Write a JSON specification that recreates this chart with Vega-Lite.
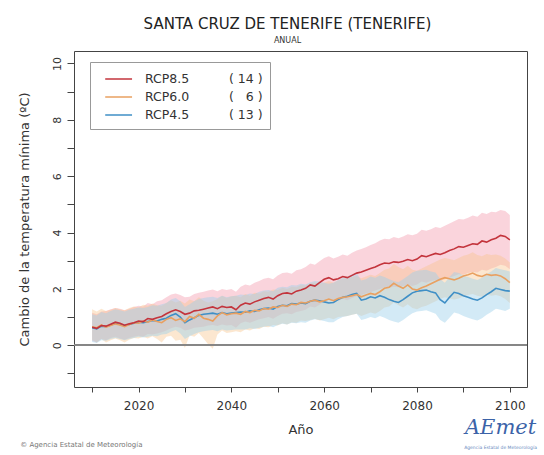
{
"$schema": "https://vega.github.io/schema/vega-lite/v6.json",
"autosize": {"type": "none"},
"padding": {"left": 74, "top": 51, "right": 17, "bottom": 68},
"width": 453,
"height": 336,
"background": "white",
"config": {
  "view": {"stroke": "#444", "strokeWidth": 1},
  "font": "DejaVu Sans",
  "axis": {"grid": false, "domain": false, "tickColor": "#444", "labelColor": "#333", "titleColor": "#333", "labelFont": "DejaVu Sans", "titleFont": "DejaVu Sans", "titleFontWeight": "normal", "labelOverlap": false, "labelBound": false}
},
"title": {"text": "SANTA CRUZ DE TENERIFE (TENERIFE)", "subtitle": "ANUAL", "fontSize": 15, "fontWeight": "normal", "font": "DejaVu Sans", "color": "#222", "subtitleFont": "DejaVu Sans", "subtitleFontSize": 8, "subtitleColor": "#333", "subtitlePadding": 5, "anchor": "middle", "dx": -13, "offset": 6},
"data": {"values": [
{"yr":2010,"r":0.64,"rl":0.15,"rh":1.15,"o":0.66,"ol":0.20,"oh":1.28,"b":0.62,"bl":0.12,"bh":1.10},
{"yr":2011,"r":0.60,"rl":0.10,"rh":1.10,"o":0.62,"ol":0.10,"oh":1.20,"b":0.58,"bl":0.08,"bh":1.06},
{"yr":2012,"r":0.70,"rl":0.22,"rh":1.20,"o":0.72,"ol":0.22,"oh":1.30,"b":0.68,"bl":0.18,"bh":1.18},
{"yr":2013,"r":0.68,"rl":0.18,"rh":1.22,"o":0.64,"ol":0.10,"oh":1.22,"b":0.66,"bl":0.16,"bh":1.14},
{"yr":2014,"r":0.75,"rl":0.26,"rh":1.28,"o":0.70,"ol":0.18,"oh":1.26,"b":0.72,"bl":0.22,"bh":1.22},
{"yr":2015,"r":0.82,"rl":0.30,"rh":1.32,"o":0.76,"ol":0.24,"oh":1.32,"b":0.78,"bl":0.26,"bh":1.28},
{"yr":2016,"r":0.78,"rl":0.24,"rh":1.30,"o":0.72,"ol":0.18,"oh":1.28,"b":0.74,"bl":0.22,"bh":1.24},
{"yr":2017,"r":0.71,"rl":0.20,"rh":1.24,"o":0.66,"ol":0.10,"oh":1.24,"b":0.70,"bl":0.18,"bh":1.20},
{"yr":2018,"r":0.76,"rl":0.26,"rh":1.30,"o":0.74,"ol":0.20,"oh":1.32,"b":0.74,"bl":0.22,"bh":1.26},
{"yr":2019,"r":0.80,"rl":0.30,"rh":1.36,"o":0.80,"ol":0.26,"oh":1.38,"b":0.78,"bl":0.26,"bh":1.30},
{"yr":2020,"r":0.86,"rl":0.34,"rh":1.40,"o":0.78,"ol":0.24,"oh":1.34,"b":0.82,"bl":0.30,"bh":1.34},
{"yr":2021,"r":0.84,"rl":0.30,"rh":1.38,"o":0.86,"ol":0.30,"oh":1.44,"b":0.80,"bl":0.28,"bh":1.32},
{"yr":2022,"r":0.95,"rl":0.40,"rh":1.50,"o":0.82,"ol":0.24,"oh":1.40,"b":0.84,"bl":0.30,"bh":1.36},
{"yr":2023,"r":0.92,"rl":0.38,"rh":1.46,"o":0.90,"ol":0.32,"oh":1.48,"b":0.88,"bl":0.34,"bh":1.42},
{"yr":2024,"r":0.98,"rl":0.42,"rh":1.56,"o":0.84,"ol":0.22,"oh":1.42,"b":0.86,"bl":0.32,"bh":1.40},
{"yr":2025,"r":1.02,"rl":0.46,"rh":1.60,"o":0.80,"ol":0.10,"oh":1.40,"b":0.92,"bl":0.38,"bh":1.46},
{"yr":2026,"r":1.12,"rl":0.52,"rh":1.70,"o":0.92,"ol":0.30,"oh":1.50,"b":0.96,"bl":0.40,"bh":1.50},
{"yr":2027,"r":1.20,"rl":0.60,"rh":1.80,"o":0.98,"ol":0.34,"oh":1.60,"b":1.06,"bl":0.48,"bh":1.62},
{"yr":2028,"r":1.26,"rl":0.66,"rh":1.84,"o":0.88,"ol":0.16,"oh":1.52,"b":1.12,"bl":0.54,"bh":1.68},
{"yr":2029,"r":1.20,"rl":0.62,"rh":1.78,"o":0.94,"ol":0.20,"oh":1.58,"b":1.00,"bl":0.42,"bh":1.56},
{"yr":2030,"r":1.10,"rl":0.52,"rh":1.70,"o":0.84,"ol":-0.10,"oh":1.48,"b":0.80,"bl":0.22,"bh":1.36},
{"yr":2031,"r":1.14,"rl":0.56,"rh":1.72,"o":1.02,"ol":0.36,"oh":1.62,"b":0.90,"bl":0.32,"bh":1.46},
{"yr":2032,"r":1.22,"rl":0.62,"rh":1.82,"o":0.96,"ol":0.30,"oh":1.56,"b":0.98,"bl":0.40,"bh":1.56},
{"yr":2033,"r":1.24,"rl":0.64,"rh":1.86,"o":1.10,"ol":0.44,"oh":1.70,"b":1.06,"bl":0.46,"bh":1.64},
{"yr":2034,"r":1.28,"rl":0.66,"rh":1.90,"o":0.96,"ol":0.24,"oh":1.58,"b":1.10,"bl":0.50,"bh":1.68},
{"yr":2035,"r":1.32,"rl":0.70,"rh":1.94,"o":0.92,"ol":0.04,"oh":1.52,"b":1.12,"bl":0.52,"bh":1.70},
{"yr":2036,"r":1.36,"rl":0.72,"rh":1.98,"o":0.86,"ol":-0.12,"oh":1.56,"b":1.14,"bl":0.54,"bh":1.72},
{"yr":2037,"r":1.30,"rl":0.68,"rh":1.92,"o":1.04,"ol":0.38,"oh":1.64,"b":1.10,"bl":0.50,"bh":1.68},
{"yr":2038,"r":1.38,"rl":0.74,"rh":2.00,"o":1.16,"ol":0.52,"oh":1.76,"b":1.16,"bl":0.56,"bh":1.76},
{"yr":2039,"r":1.34,"rl":0.70,"rh":1.96,"o":1.08,"ol":0.44,"oh":1.68,"b":1.12,"bl":0.52,"bh":1.70},
{"yr":2040,"r":1.36,"rl":0.72,"rh":2.00,"o":1.12,"ol":0.46,"oh":1.74,"b":1.14,"bl":0.54,"bh":1.74},
{"yr":2041,"r":1.26,"rl":0.62,"rh":1.90,"o":1.14,"ol":0.50,"oh":1.76,"b":1.16,"bl":0.56,"bh":1.76},
{"yr":2042,"r":1.42,"rl":0.78,"rh":2.08,"o":1.10,"ol":0.46,"oh":1.70,"b":1.18,"bl":0.56,"bh":1.80},
{"yr":2043,"r":1.50,"rl":0.84,"rh":2.16,"o":1.20,"ol":0.56,"oh":1.82,"b":1.17,"bl":0.56,"bh":1.78},
{"yr":2044,"r":1.46,"rl":0.80,"rh":2.12,"o":1.16,"ol":0.52,"oh":1.76,"b":1.22,"bl":0.60,"bh":1.84},
{"yr":2045,"r":1.54,"rl":0.86,"rh":2.22,"o":1.24,"ol":0.60,"oh":1.86,"b":1.20,"bl":0.58,"bh":1.82},
{"yr":2046,"r":1.60,"rl":0.92,"rh":2.28,"o":1.22,"ol":0.58,"oh":1.84,"b":1.26,"bl":0.62,"bh":1.90},
{"yr":2047,"r":1.66,"rl":0.96,"rh":2.36,"o":1.30,"ol":0.66,"oh":1.92,"b":1.30,"bl":0.66,"bh":1.94},
{"yr":2048,"r":1.70,"rl":1.00,"rh":2.40,"o":1.28,"ol":0.64,"oh":1.90,"b":1.32,"bl":0.68,"bh":1.96},
{"yr":2049,"r":1.64,"rl":0.94,"rh":2.34,"o":1.36,"ol":0.72,"oh":1.98,"b":1.28,"bl":0.64,"bh":1.92},
{"yr":2050,"r":1.76,"rl":1.04,"rh":2.48,"o":1.34,"ol":0.70,"oh":1.96,"b":1.38,"bl":0.72,"bh":2.04},
{"yr":2051,"r":1.84,"rl":1.12,"rh":2.56,"o":1.42,"ol":0.78,"oh":2.04,"b":1.42,"bl":0.76,"bh":2.08},
{"yr":2052,"r":1.86,"rl":1.14,"rh":2.58,"o":1.38,"ol":0.74,"oh":2.00,"b":1.40,"bl":0.74,"bh":2.06},
{"yr":2053,"r":1.82,"rl":1.10,"rh":2.54,"o":1.46,"ol":0.82,"oh":2.08,"b":1.48,"bl":0.80,"bh":2.14},
{"yr":2054,"r":1.92,"rl":1.18,"rh":2.66,"o":1.44,"ol":0.80,"oh":2.06,"b":1.46,"bl":0.78,"bh":2.12},
{"yr":2055,"r":1.96,"rl":1.22,"rh":2.70,"o":1.52,"ol":0.88,"oh":2.14,"b":1.50,"bl":0.82,"bh":2.18},
{"yr":2056,"r":2.02,"rl":1.26,"rh":2.78,"o":1.50,"ol":0.86,"oh":2.12,"b":1.48,"bl":0.80,"bh":2.16},
{"yr":2057,"r":2.14,"rl":1.38,"rh":2.90,"o":1.56,"ol":0.90,"oh":2.20,"b":1.56,"bl":0.88,"bh":2.24},
{"yr":2058,"r":2.10,"rl":1.34,"rh":2.86,"o":1.60,"ol":0.94,"oh":2.24,"b":1.60,"bl":0.92,"bh":2.28},
{"yr":2059,"r":2.22,"rl":1.44,"rh":2.98,"o":1.54,"ol":0.88,"oh":2.18,"b":1.58,"bl":0.90,"bh":2.26},
{"yr":2060,"r":2.34,"rl":1.56,"rh":3.10,"o":1.58,"ol":0.92,"oh":2.22,"b":1.54,"bl":0.86,"bh":2.22},
{"yr":2061,"r":2.40,"rl":1.62,"rh":3.16,"o":1.64,"ol":0.98,"oh":2.28,"b":1.50,"bl":0.82,"bh":2.18},
{"yr":2062,"r":2.32,"rl":1.54,"rh":3.08,"o":1.58,"ol":0.92,"oh":2.22,"b":1.52,"bl":0.82,"bh":2.22},
{"yr":2063,"r":2.36,"rl":1.58,"rh":3.14,"o":1.66,"ol":1.00,"oh":2.30,"b":1.62,"bl":0.92,"bh":2.32},
{"yr":2064,"r":2.44,"rl":1.64,"rh":3.22,"o":1.70,"ol":1.02,"oh":2.36,"b":1.70,"bl":1.00,"bh":2.40},
{"yr":2065,"r":2.40,"rl":1.60,"rh":3.18,"o":1.72,"ol":1.04,"oh":2.38,"b":1.74,"bl":1.04,"bh":2.44},
{"yr":2066,"r":2.48,"rl":1.68,"rh":3.28,"o":1.76,"ol":1.08,"oh":2.42,"b":1.80,"bl":1.08,"bh":2.52},
{"yr":2067,"r":2.56,"rl":1.74,"rh":3.36,"o":1.80,"ol":1.12,"oh":2.46,"b":1.84,"bl":1.12,"bh":2.56},
{"yr":2068,"r":2.60,"rl":1.78,"rh":3.42,"o":1.72,"ol":1.04,"oh":2.38,"b":1.60,"bl":0.90,"bh":2.30},
{"yr":2069,"r":2.66,"rl":1.84,"rh":3.48,"o":1.78,"ol":1.10,"oh":2.44,"b":1.64,"bl":0.94,"bh":2.34},
{"yr":2070,"r":2.72,"rl":1.88,"rh":3.56,"o":1.84,"ol":1.16,"oh":2.50,"b":1.72,"bl":1.00,"bh":2.44},
{"yr":2071,"r":2.78,"rl":1.94,"rh":3.62,"o":1.80,"ol":1.12,"oh":2.46,"b":1.68,"bl":0.96,"bh":2.40},
{"yr":2072,"r":2.86,"rl":2.00,"rh":3.72,"o":1.90,"ol":1.22,"oh":2.56,"b":1.76,"bl":1.04,"bh":2.48},
{"yr":2073,"r":2.92,"rl":2.06,"rh":3.78,"o":2.02,"ol":1.34,"oh":2.68,"b":1.70,"bl":0.98,"bh":2.42},
{"yr":2074,"r":2.90,"rl":2.04,"rh":3.76,"o":2.06,"ol":1.38,"oh":2.72,"b":1.62,"bl":0.90,"bh":2.34},
{"yr":2075,"r":2.96,"rl":2.08,"rh":3.84,"o":2.20,"ol":1.52,"oh":2.88,"b":1.56,"bl":0.84,"bh":2.28},
{"yr":2076,"r":2.94,"rl":2.06,"rh":3.80,"o":2.10,"ol":1.42,"oh":2.78,"b":1.52,"bl":0.80,"bh":2.24},
{"yr":2077,"r":2.98,"rl":2.10,"rh":3.86,"o":2.02,"ol":1.34,"oh":2.70,"b":1.62,"bl":0.90,"bh":2.34},
{"yr":2078,"r":3.04,"rl":2.14,"rh":3.94,"o":2.14,"ol":1.46,"oh":2.82,"b":1.74,"bl":1.02,"bh":2.46},
{"yr":2079,"r":3.00,"rl":2.10,"rh":3.90,"o":2.00,"ol":1.32,"oh":2.68,"b":1.86,"bl":1.14,"bh":2.58},
{"yr":2080,"r":3.06,"rl":2.16,"rh":3.96,"o":1.96,"ol":1.28,"oh":2.64,"b":1.92,"bl":1.20,"bh":2.64},
{"yr":2081,"r":3.18,"rl":2.26,"rh":4.10,"o":2.04,"ol":1.36,"oh":2.72,"b":1.94,"bl":1.22,"bh":2.66},
{"yr":2082,"r":3.14,"rl":2.22,"rh":4.06,"o":2.10,"ol":1.40,"oh":2.80,"b":1.96,"bl":1.24,"bh":2.68},
{"yr":2083,"r":3.20,"rl":2.28,"rh":4.12,"o":2.18,"ol":1.48,"oh":2.88,"b":1.90,"bl":1.18,"bh":2.62},
{"yr":2084,"r":3.26,"rl":2.32,"rh":4.20,"o":2.26,"ol":1.56,"oh":2.96,"b":1.86,"bl":1.12,"bh":2.58},
{"yr":2085,"r":3.22,"rl":2.28,"rh":4.16,"o":2.34,"ol":1.64,"oh":3.04,"b":1.62,"bl":0.90,"bh":2.34},
{"yr":2086,"r":3.28,"rl":2.34,"rh":4.24,"o":2.40,"ol":1.70,"oh":3.10,"b":1.50,"bl":0.80,"bh":2.22},
{"yr":2087,"r":3.36,"rl":2.40,"rh":4.32,"o":2.36,"ol":1.66,"oh":3.06,"b":1.70,"bl":0.98,"bh":2.42},
{"yr":2088,"r":3.42,"rl":2.46,"rh":4.40,"o":2.32,"ol":1.62,"oh":3.02,"b":1.88,"bl":1.16,"bh":2.60},
{"yr":2089,"r":3.50,"rl":2.52,"rh":4.48,"o":2.38,"ol":1.66,"oh":3.10,"b":1.84,"bl":1.12,"bh":2.56},
{"yr":2090,"r":3.48,"rl":2.50,"rh":4.46,"o":2.46,"ol":1.74,"oh":3.18,"b":1.76,"bl":1.04,"bh":2.48},
{"yr":2091,"r":3.54,"rl":2.56,"rh":4.52,"o":2.50,"ol":1.78,"oh":3.22,"b":1.70,"bl":0.98,"bh":2.42},
{"yr":2092,"r":3.60,"rl":2.60,"rh":4.60,"o":2.56,"ol":1.82,"oh":3.30,"b":1.64,"bl":0.92,"bh":2.36},
{"yr":2093,"r":3.58,"rl":2.58,"rh":4.56,"o":2.48,"ol":1.76,"oh":3.20,"b":1.60,"bl":0.88,"bh":2.32},
{"yr":2094,"r":3.70,"rl":2.68,"rh":4.70,"o":2.44,"ol":1.72,"oh":3.16,"b":1.68,"bl":0.96,"bh":2.40},
{"yr":2095,"r":3.66,"rl":2.64,"rh":4.66,"o":2.52,"ol":1.80,"oh":3.24,"b":1.80,"bl":1.08,"bh":2.52},
{"yr":2096,"r":3.74,"rl":2.72,"rh":4.74,"o":2.48,"ol":1.76,"oh":3.20,"b":1.90,"bl":1.18,"bh":2.62},
{"yr":2097,"r":3.80,"rl":2.78,"rh":4.72,"o":2.50,"ol":1.78,"oh":3.22,"b":2.02,"bl":1.30,"bh":2.74},
{"yr":2098,"r":3.90,"rl":2.86,"rh":4.80,"o":2.46,"ol":1.74,"oh":3.18,"b":1.98,"bl":1.26,"bh":2.70},
{"yr":2099,"r":3.86,"rl":2.82,"rh":4.76,"o":2.36,"ol":1.64,"oh":3.08,"b":1.94,"bl":1.22,"bh":2.66},
{"yr":2100,"r":3.74,"rl":2.70,"rh":4.62,"o":2.22,"ol":1.50,"oh":2.94,"b":1.92,"bl":1.30,"bh":2.62}
]},
"encoding": {
  "x": {"field": "yr", "type": "quantitative",
        "scale": {"domain": [2006.1, 2103.7], "nice": false, "zero": false},
        "axis": {"title": "Año", "values": [2010,2020,2030,2040,2050,2060,2070,2080,2090,2100], "format": "d", "tickCount": 30,
                 "labelExpr": "datum.value % 20 == 0 ? datum.label : ''",
                 "tickSize": 5, "labelPadding": 8, "labelFontSize": 12, "titleFontSize": 13, "titlePadding": 12}}
},
"layer": [
  {"mark": {"type": "area", "color": "#f4a0b2", "opacity": 0.45},
   "encoding": {"y": {"field": "rl", "type": "quantitative",
        "scale": {"domain": [-1.48, 10.44], "nice": false, "zero": false},
        "axis": {"title": "Cambio de la temperatura mínima (ºC)", "values": [-1,0,1,2,3,4,5,6,7,8,9,10], "format": "d", "tickCount": 30,
                 "labelExpr": "datum.value % 2 == 0 ? datum.label : ''",
                 "labelAngle": 270,
                 "tickSize": 7, "labelPadding": 5, "labelFontSize": 11, "titleFontSize": 13, "titlePadding": 20}},
                "y2": {"field": "rh"}}},
  {"mark": {"type": "area", "color": "#f7c28a", "opacity": 0.4},
   "encoding": {"y": {"field": "ol", "type": "quantitative"}, "y2": {"field": "oh"}}},
  {"mark": {"type": "area", "color": "#9dd0ea", "opacity": 0.45},
   "encoding": {"y": {"field": "bl", "type": "quantitative"}, "y2": {"field": "bh"}}},
  {"mark": {"type": "rule", "color": "#888", "strokeWidth": 1},
   "encoding": {"y": {"datum": 0}, "x": {"value": 0}, "x2": {"value": 453}}},
  {"transform": [{"fold": ["b", "o", "r"], "as": ["k", "v"]}],
   "mark": {"type": "line", "strokeWidth": 1.6},
   "encoding": {
     "y": {"field": "v", "type": "quantitative"},
     "color": {"field": "k", "type": "nominal",
        "scale": {"domain": ["r", "o", "b"], "range": ["#c3343c", "#e9a060", "#3f8fc6"]},
        "legend": {"orient": "none", "legendX": 16, "legendY": 11, "title": null,
           "strokeColor": "#999", "padding": 7, "rowPadding": 1, "symbolType": "M-0.2,0H2.8", "symbolSize": 320, "symbolStrokeWidth": 1.5,
           "labelFont": "DejaVu Sans", "labelFontSize": 12.5, "labelColor": "#333", "labelOffset": 28, "labelLimit": 300,
           "labelExpr": "datum.value == 'r' ? 'RCP8.5\u00a0\u00a0\u00a0\u00a0\u00a0\u00a0\u00a0\u00a0\u00a0\u00a0(\u00a014\u00a0)' : datum.value == 'o' ? 'RCP6.0\u00a0\u00a0\u00a0\u00a0\u00a0\u00a0\u00a0\u00a0\u00a0\u00a0(\u00a0\u00a0\u00a06\u00a0)' : 'RCP4.5\u00a0\u00a0\u00a0\u00a0\u00a0\u00a0\u00a0\u00a0\u00a0\u00a0(\u00a013\u00a0)'"}}}},
  {"data": {"values": [{"x": 1994.5, "y": -3.55, "t": "© Agencia Estatal de Meteorología"}]},
   "mark": {"type": "text", "align": "left", "baseline": "middle", "fontSize": 7, "color": "#777"},
   "encoding": {"x": {"field": "x", "type": "quantitative"}, "y": {"field": "y", "type": "quantitative"}, "text": {"field": "t"}}},
  {"data": {"values": [{"x": 2098.0, "y": -2.95, "t": "AEmet"}]},
   "mark": {"type": "text", "align": "center", "baseline": "middle", "fontSize": 21, "fontStyle": "italic", "font": "DejaVu Serif", "color": "#3b63a8"},
   "encoding": {"x": {"field": "x", "type": "quantitative"}, "y": {"field": "y", "type": "quantitative"}, "text": {"field": "t"}}},
  {"data": {"values": [{"x": 2098.0, "y": -3.65, "t": "Agencia Estatal de Meteorología"}]},
   "mark": {"type": "text", "align": "center", "baseline": "middle", "fontSize": 4.5, "color": "#6a8cc0"},
   "encoding": {"x": {"field": "x", "type": "quantitative"}, "y": {"field": "y", "type": "quantitative"}, "text": {"field": "t"}}}
]
}
